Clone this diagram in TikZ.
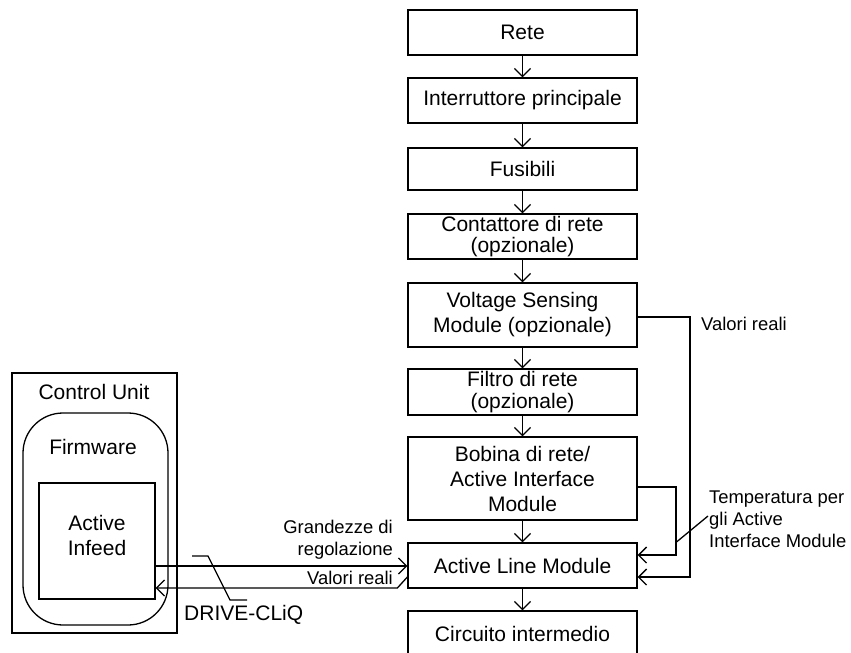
\documentclass[tikz,border=0pt]{standalone}
\usepackage{fontspec}
\setmainfont{Liberation Sans}
\usetikzlibrary{arrows.meta,calc}
\begin{document}
\begin{tikzpicture}[x=1bp,y=-1bp,
  stage/.style={draw, line width=1.3bp, minimum width=229bp, inner sep=0pt,
    align=center, font=\fontsize{21bp}{25bp}\selectfont},
  frame/.style={draw, line width=1.3bp, inner sep=0pt},
  big/.style={inner sep=0pt, align=center, font=\fontsize{21bp}{25bp}\selectfont},
  lbl/.style={inner sep=0pt, font=\fontsize{18.4bp}{22bp}\selectfont},
  flow/.style={line width=1.3bp,
    -{Straight Barb[length=8bp,width=16bp,line width=1.3bp]}},
  lead/.style={line width=1.3bp}]
\clip (0,0) rectangle (851,653);

% main power path
\node[stage, minimum height=45bp] (rete) at (522.5,32.5) {Rete};
\node[stage, minimum height=45bp] (ints) at (522.5,100.5) {Interruttore principale};
\node[stage, minimum height=42bp] (fus)  at (522.5,169) {Fusibili};
\node[stage, minimum height=45bp] (cont) at (522.5,236.5) {Contattore di rete\\[-4bp](opzionale)};
\node[stage, minimum height=64bp] (vsm)  at (522.5,315) {Voltage Sensing\\Module (opzionale)};
\node[stage, minimum height=46bp] (filt) at (522.5,392) {Filtro di rete\\[-3bp](opzionale)};
\node[stage, minimum height=83bp] (bob)  at (522.5,478.5) {Bobina di rete/\\Active Interface\\Module};
\node[stage, minimum height=45bp] (alm)  at (522.5,565.5) {Active Line Module};
\node[stage, minimum height=45bp] (circ) at (522.5,633.5) {Circuito intermedio};

\draw[flow] (rete) -- (ints);
\draw[flow] (ints) -- (fus);
\draw[flow] (fus) -- (cont);
\draw[flow] (cont) -- (vsm);
\draw[flow] (vsm) -- (filt);
\draw[flow] (filt) -- (bob);
\draw[flow] (bob) -- (alm);
\draw[flow] (alm) -- (circ);

% control unit
\node[frame, minimum width=165bp, minimum height=260bp] (cu) at (94.5,503) {};
\node[big] (cut) at (94,392) {Control Unit};
\node[frame, rounded corners=40bp, minimum width=145bp, minimum height=212bp] (fw) at (95.5,519) {};
\node[big] (fwt) at (93,447) {Firmware};
\node[frame, minimum width=116bp, minimum height=116bp] (ai) at (97,541) {};
\node[big] (ait) at (97,535.5) {Active\\Infeed};

% DRIVE-CLiQ link
\draw[flow] (ai.east |- 0,566) -- (alm.west |- 0,566);
\draw[flow] ([yshift=-11.5bp]alm.west) -- ++(-10,11) -- (ai.east |- 0,588);
\node[lbl, align=right, anchor=east] (gr) at (393,539.5) {Grandezze di\\regolazione};
\node[lbl, anchor=east] (vr1) at (393,578) {Valori reali};
\coordinate (dq) at (192,556);
\draw[lead] (dq) -- (208,556) -- (230,600) -- (247,600);
\node[big, anchor=west] (dqt) at (184,615) {DRIVE-CLiQ};

% feedback signals
\draw[flow] (vsm.east |- 0,317) -- (690,317) -- (690,577) -- (alm.east |- 0,577);
\node[lbl, anchor=west] (vr2) at (701,324) {Valori reali};
\draw[flow] (bob.east |- 0,487) -- (676,487) -- (676,555) -- (alm.east |- 0,555);
\node[lbl, align=left, anchor=west] (temp) at (709,519) {Temperatura per\\gli Active\\Interface Module};
\coordinate (tl) at (676.5,542);
\draw[lead] (tl) -- (708,516);
\end{tikzpicture}
\end{document}
